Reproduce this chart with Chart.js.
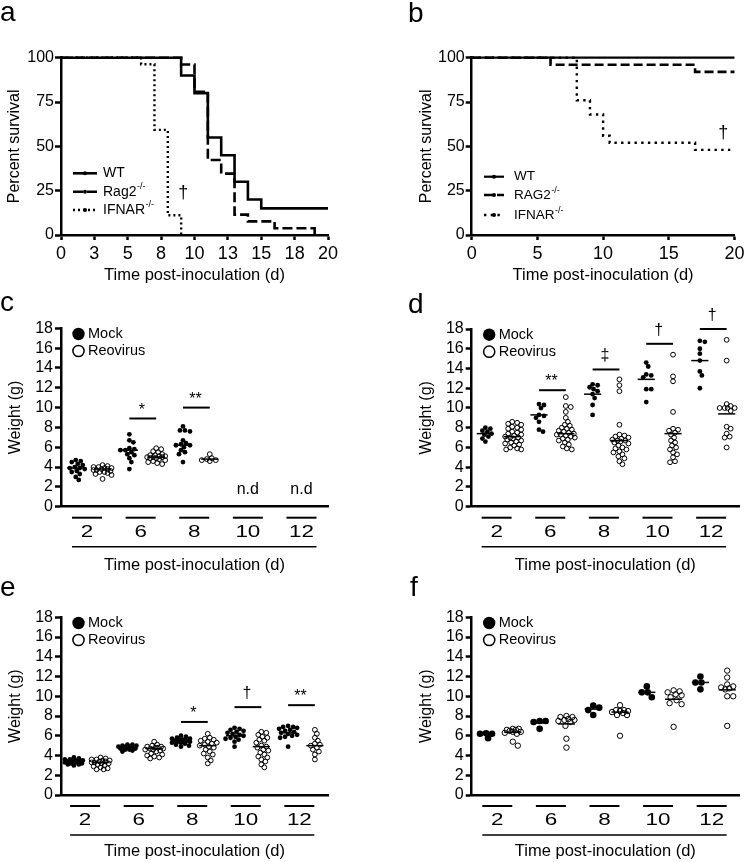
<!DOCTYPE html>
<html>
<head>
<meta charset="utf-8">
<title>Survival and weight after reovirus inoculation</title>
<script src="https://cdn.jsdelivr.net/npm/chart.js@4.4.1/dist/chart.umd.min.js"></script>
<style>
  html, body { margin:0; padding:0; background:#fff; width:748px; height:862px; overflow:hidden; }
  canvas.panel { position:absolute; }
  .letter { position:absolute; font-family:'Liberation Sans', Arial, sans-serif; font-size:28px; line-height:28px; color:#000; }
</style>
</head>
<body>
<canvas id="pa" class="panel" width="374" height="290" style="left:0px;top:0px"></canvas>
<canvas id="pb" class="panel" width="374" height="290" style="left:374px;top:0px"></canvas>
<canvas id="pc" class="panel" width="374" height="285" style="left:0px;top:290px"></canvas>
<canvas id="pd" class="panel" width="374" height="285" style="left:374px;top:290px"></canvas>
<canvas id="pe" class="panel" width="374" height="287" style="left:0px;top:575px"></canvas>
<canvas id="pf" class="panel" width="374" height="287" style="left:374px;top:575px"></canvas>
<div class="letter" style="left:0px;top:-2px">a</div>
<div class="letter" style="left:408px;top:-1px">b</div>
<div class="letter" style="left:0px;top:288px">c</div>
<div class="letter" style="left:408px;top:290px">d</div>
<div class="letter" style="left:0px;top:573px">e</div>
<div class="letter" style="left:410px;top:573px">f</div>
<script>
// ================= DATA =================
// --- Panel a: survival (%), Kaplan-Meier steps (day of event, survival after event)
const aSeriesNames = ['WT', 'Rag2', 'IFNAR'];
const aSeriesSup   = ['', '-/-', '-/-'];
const aWT_day    = [0, 9, 10, 11, 12, 13, 14, 15, 20];
const aWT_pct    = [100, 90, 80, 55, 45, 30, 20, 15, 15];
const aRag2_day  = [0, 9, 10, 11, 12, 13, 14, 16, 19];
const aRag2_pct  = [100, 96.2, 80.8, 42.3, 34.6, 11.5, 7.7, 3.8, 0];
const aIFNAR_day = [0, 6, 7, 8, 9];
const aIFNAR_pct = [100, 96.3, 59.3, 11.1, 0];
const aXTickVals   = [0, 2.5, 5, 7.5, 10, 12.5, 15, 17.5, 20];
const aXTickLabels = ['0', '3', '5', '8', '10', '13', '15', '18', '20'];
const aDagger = [9.15, 23.7];           // [day, percent]

// --- Panel b
const bSeriesNames = ['WT', 'RAG2', 'IFNAR'];
const bSeriesSup   = ['', '-/-', '-/-'];
const bWT_day    = [0, 20];
const bWT_pct    = [100, 100];
const bRAG2_day  = [0, 6, 17, 20];
const bRAG2_pct  = [100, 96, 92, 92];
const bIFNAR_day = [0, 8, 9, 10, 10.5, 17, 20];
const bIFNAR_pct = [100, 76, 68, 56, 52, 48, 48];
const bXTickVals   = [0, 5, 10, 15, 20];
const bXTickLabels = ['0', '5', '10', '15', '20'];
const bDagger = [19.15, 58];

const pctTicks = [0, 25, 50, 75, 100];

// --- Weight panels (g): categories and tick labels
const days = ['2', '6', '8', '10', '12'];
const weightTicks = [0, 2, 4, 6, 8, 10, 12, 14, 16, 18];
const groupNames = ['Mock', 'Reovirus'];

// Panel c
const cMock = [
  [4.7, 4.6, 4.5, 4.3, 4.2, 4.0, 3.9, 3.9, 3.8, 3.6, 3.5, 3.3, 3.0, 2.7],
  [7.3, 6.7, 6.5, 5.9, 5.8, 5.7, 5.7, 5.5, 5.3, 5.2, 4.9, 4.5, 3.8],
  [8.1, 7.7, 7.7, 7.6, 6.7, 6.4, 6.3, 6.2, 6.2, 6.0, 5.7, 5.5, 5.3, 4.5],
  [], []
];
const cReo = [
  [4.2, 4.1, 4.0, 4.0, 3.9, 3.9, 3.8, 3.8, 3.7, 3.7, 3.6, 3.5, 3.5, 3.4, 3.3, 3.2, 2.8],
  [5.9, 5.8, 5.6, 5.5, 5.3, 5.2, 5.2, 5.1, 5.1, 5.0, 5.0, 5.0, 4.9, 4.9, 4.8, 4.7, 4.6, 4.5, 4.4, 4.3],
  [5.3, 4.9, 4.8, 4.7, 4.7, 4.6],
  [], []
];
const cMockMed = [3.9, 5.7, 6.2, null, null];
const cReoMed  = [3.8, 5.0, 4.8, null, null];
const cSigDay  = [1, 2];
const cSigY    = [8.9, 10.0];
const cSigText = ['*', '**'];
const cNdDay   = [3, 4];
const cNdY     = [1.7, 1.7];

// Panel d
const dMock = [
  [8.0, 7.9, 7.7, 7.6, 7.4, 7.3, 7.1, 6.9, 6.6],
  [10.4, 10.3, 10.0, 9.3, 9.2, 9.0, 8.6, 7.8, 7.6],
  [12.4, 12.3, 12.1, 11.9, 11.7, 11.4, 11.0, 10.3, 9.3],
  [14.6, 14.2, 13.4, 13.3, 13.1, 11.9, 11.9, 10.6],
  [16.8, 16.7, 16.0, 15.5, 14.8, 13.7, 13.3, 12.0]
];
const dReo = [
  [8.6, 8.5, 8.4, 8.3, 8.1, 8.0, 7.9, 7.8, 7.6, 7.5, 7.4, 7.3, 7.2, 7.1, 7.0, 7.0, 6.9, 6.8, 6.7, 6.6, 6.5, 6.4, 6.3, 6.2, 6.0, 5.9, 5.8, 5.8],
  [11.1, 10.2, 10.1, 9.6, 9.0, 8.6, 8.3, 8.2, 8.0, 7.9, 7.8, 7.7, 7.6, 7.5, 7.4, 7.3, 7.3, 7.2, 7.1, 7.0, 6.9, 6.8, 6.7, 6.5, 6.3, 6.1, 5.9, 5.8],
  [12.9, 12.3, 11.7, 8.3, 7.3, 7.2, 7.1, 7.0, 6.9, 6.8, 6.7, 6.7, 6.6, 6.5, 6.4, 6.2, 6.0, 5.9, 5.8, 5.6, 5.5, 5.3, 5.1, 4.9, 4.6, 4.3],
  [15.4, 13.2, 12.7, 9.6, 7.9, 7.8, 7.7, 7.5, 7.3, 7.0, 6.7, 6.5, 6.2, 6.0, 5.8, 5.5, 5.3, 5.0, 4.6, 4.5],
  [16.9, 14.8, 10.4, 10.2, 10.0, 10.0, 10.0, 10.0, 9.7, 8.1, 7.9, 7.4, 7.1, 7.0, 6.0]
];
const dMockMed = [7.4, 9.3, 11.4, 12.9, 14.8];
const dReoMed  = [7.1, 7.4, 6.7, 7.4, 9.4];
const dSigDay  = [1, 2, 3, 4];
const dSigY    = [11.8, 13.9, 16.5, 18.0];
const dSigText = ['**', '\u2021', '\u2020', '\u2020'];

// Panel e
const eMock = [
  [3.8, 3.7, 3.6, 3.6, 3.5, 3.5, 3.4, 3.4, 3.4, 3.3, 3.3, 3.3, 3.2, 3.2, 3.1, 3.1, 3.0],
  [5.1, 5.1, 5.0, 5.0, 4.9, 4.9, 4.9, 4.8, 4.8, 4.8, 4.7, 4.7, 4.6, 4.6, 4.5, 4.4],
  [6.0, 5.9, 5.8, 5.7, 5.7, 5.6, 5.6, 5.5, 5.5, 5.4, 5.4, 5.3, 5.3, 5.2, 5.1, 5.0, 4.9],
  [6.8, 6.7, 6.6, 6.5, 6.4, 6.3, 6.2, 6.1, 6.0, 5.9, 5.8, 5.7, 5.6, 5.4, 4.9],
  [7.0, 6.9, 6.9, 6.8, 6.7, 6.6, 6.5, 6.4, 6.3, 6.2, 6.1, 6.0, 5.9, 5.8, 4.9]
];
const eReo = [
  [3.8, 3.7, 3.6, 3.6, 3.5, 3.5, 3.4, 3.4, 3.3, 3.3, 3.2, 3.2, 3.1, 3.0, 2.9, 2.8, 2.7, 2.6, 2.6],
  [5.4, 5.1, 5.0, 4.9, 4.9, 4.8, 4.8, 4.7, 4.7, 4.6, 4.6, 4.5, 4.4, 4.2, 4.1, 4.0, 3.9, 3.8, 3.7],
  [6.2, 5.8, 5.7, 5.6, 5.5, 5.4, 5.3, 5.2, 5.1, 5.0, 4.9, 4.8, 4.6, 4.4, 4.2, 4.1, 3.8, 3.5, 3.2],
  [6.4, 6.3, 6.1, 5.9, 5.8, 5.6, 5.5, 5.3, 5.0, 4.9, 4.8, 4.6, 4.5, 4.3, 4.1, 3.9, 3.8, 3.6, 3.4, 3.1, 2.8],
  [6.6, 6.2, 5.8, 5.5, 5.2, 5.1, 5.0, 4.8, 4.6, 4.4, 4.1, 3.6]
];
const eMockMed = [3.4, 4.8, 5.5, 6.0, 6.3];
const eReoMed  = [3.3, 4.7, 5.0, 4.9, 5.0];
const eSigDay  = [2, 3, 4];
const eSigY    = [7.4, 8.9, 9.1];
const eSigText = ['*', '\u2020', '**'];

// Panel f
const fMock = [
  [6.25, 6.2, 6.2, 5.75],
  [7.5, 7.5, 7.4, 6.7],
  [9.05, 8.85, 8.6, 8.1],
  [11.0, 10.4, 10.4, 9.9],
  [12.0, 11.4, 11.4, 10.7]
];
const fReo = [
  [6.7, 6.7, 6.6, 6.6, 6.5, 6.4, 6.4, 6.3, 6.2, 5.4, 5.0],
  [8.0, 7.9, 7.9, 7.7, 7.6, 7.6, 7.5, 7.4, 7.0, 5.7, 4.8],
  [9.1, 8.6, 8.6, 8.5, 8.5, 8.4, 8.3, 8.1, 8.1, 6.0],
  [10.6, 10.5, 10.4, 10.2, 10.1, 9.9, 9.6, 9.3, 9.2, 6.9],
  [12.6, 11.9, 11.2, 11.0, 10.9, 10.8, 10.7, 10.0, 10.0, 7.0]
];
const fMockMed = [6.2, 7.3, 8.7, 10.4, 11.4];
const fReoMed  = [6.35, 7.2, 8.4, 9.7, 10.65];
const fSigDay = [], fSigY = [], fSigText = [];

// ================= LAYOUT / STYLE =================
const FONT = "'Liberation Sans', Arial, Helvetica, sans-serif";
Chart.defaults.font.family = FONT;
Chart.defaults.color = '#000';
Chart.defaults.animation = false;

const GA = {W:374, H:290, l:61,   t:57.7, r:328,   b:235, yTitleX:15,   xTitleY:275};
const GB = {W:374, H:290, l:97.7, t:57.7, r:364.3, b:235, yTitleX:52.5, xTitleY:275};
const GC = {W:374, H:285, l:61,   t:38.3, r:328,   b:216.7, yTitleX:15.5, xTitleY:275,   xMin:-0.55,  xMax:9.41, rm:2.4, rr:2.4, D:4.2, maxOff:9};
const GD = {W:374, H:285, l:97.7, t:39,   r:365,   b:216.7, yTitleX:52.5, xTitleY:275,   xMin:-0.51,  xMax:9.46, rm:2.4, rr:2.4, D:4.2, maxOff:9};
const GE = {W:374, H:287, l:61,   t:42.3, r:328,   b:220,   yTitleX:15.5, xTitleY:276.7, xMin:-0.48,  xMax:9.49, rm:2.4, rr:2.4, D:4.2, maxOff:9};
const GF = {W:374, H:287, l:97.7, t:42.3, r:365,   b:220,   yTitleX:52.5, xTitleY:276.7, xMin:-0.535, xMax:9.44, rm:3.3, rr:2.7, D:6.0, maxOff:8};

const GROUP_OFFSET = 0.42;   // label centre relative to mock column

function drawLabelSup(ctx, x, y, base, sup, size) {
  ctx.font = size + 'px ' + FONT;
  ctx.textAlign = 'left'; ctx.textBaseline = 'middle'; ctx.fillStyle = '#000';
  ctx.fillText(base, x, y);
  if (sup) {
    const w = ctx.measureText(base).width;
    ctx.font = Math.round(size * 0.64) + 'px ' + FONT;
    ctx.fillText(sup, x + w + 0.5, y - size * 0.36);
  }
}

function centeredGlyph(ctx, text, cx, cy, size) {
  ctx.font = size + 'px ' + FONT;
  ctx.textAlign = 'center'; ctx.textBaseline = 'alphabetic';
  const m = ctx.measureText(text);
  const base = cy + (m.actualBoundingBoxAscent - m.actualBoundingBoxDescent) / 2;
  ctx.fillText(text, cx, base);
}

// ================= SURVIVAL CHARTS =================
function survivalChart(id, G, series, xVals, xLabels, dagger, leg) {
  const datasets = series.map(s => ({
    type: 'line',
    label: s.name + s.sup,
    data: s.day.map((d, i) => ({x: d, y: s.pct[i]})),
    stepped: 'before',
    borderColor: '#000',
    borderWidth: s.width,
    borderDash: s.dash,
    borderCapStyle: 'butt',
    borderJoinStyle: 'miter',
    pointRadius: 0,
    fill: false,
    clip: false
  }));
  const deco = {
    id: 'deco',
    afterDraw(chart) {
      const ctx = chart.ctx, a = chart.chartArea;
      const xs = chart.scales.x, ys = chart.scales.y;
      ctx.save();
      series.forEach((s, i) => {
        const y = a.bottom + leg.rows[i];
        const x0 = a.left + leg.x0, x1 = a.left + leg.x1;
        ctx.strokeStyle = '#000'; ctx.lineWidth = s.width; ctx.lineCap = 'butt';
        ctx.setLineDash(s.dash);
        ctx.beginPath(); ctx.moveTo(x0, y); ctx.lineTo(x1, y); ctx.stroke();
        ctx.setLineDash([]);
        ctx.fillStyle = '#000';
        ctx.beginPath(); ctx.arc((x0 + x1) / 2, y, 2, 0, Math.PI * 2); ctx.fill();
        drawLabelSup(ctx, a.left + leg.tx, y, s.name, s.sup, leg.size);
      });
      ctx.fillStyle = '#000';
      centeredGlyph(ctx, '\u2020', xs.getPixelForValue(dagger[0]), ys.getPixelForValue(dagger[1]), 18);
      ctx.restore();
    }
  };
  return new Chart(document.getElementById(id), {
    type: 'line',
    data: {datasets},
    plugins: [deco],
    options: {
      responsive: false,
      events: [],
      layout: {padding: {top: G.t, right: G.W - G.r, bottom: 0, left: 0}},
      plugins: {legend: {display: false}, tooltip: {enabled: false}},
      scales: {
        x: {
          type: 'linear', min: 0, max: 20,
          afterFit: s => { s.height = G.H - G.b; },
          afterBuildTicks: s => { s.ticks = xVals.map(v => ({value: v})); },
          ticks: {callback: (v, i) => xLabels[i], font: {size: 18}, padding: 3.5, color: '#000', maxRotation: 0, autoSkip: false},
          grid: {display: true, drawOnChartArea: false, drawTicks: true, tickLength: 5, tickWidth: 2.5, color: '#000'},
          border: {display: true, width: 2.5, color: '#000'},
          title: {display: true, text: 'Time post-inoculation (d)', font: {size: 16.5}, color: '#000',
                  padding: {top: 0, bottom: G.H - G.xTitleY - 9.9}}
        },
        y: {
          type: 'linear', min: 0, max: 100,
          afterFit: s => { s.width = G.l; },
          afterBuildTicks: s => { s.ticks = pctTicks.map(v => ({value: v})); },
          ticks: {font: {size: 16}, padding: 1, color: '#000', autoSkip: false},
          grid: {display: true, drawOnChartArea: false, drawTicks: true, tickLength: 6, tickWidth: 2.5, color: '#000'},
          border: {display: true, width: 2.5, color: '#000'},
          title: {display: true, text: 'Percent survival', font: {size: 16}, color: '#000',
                  padding: {top: G.yTitleX - 9.6, bottom: 0}}
        }
      }
    }
  });
}

survivalChart('pa', GA, [
  {name: aSeriesNames[0], sup: aSeriesSup[0], day: aWT_day,    pct: aWT_pct,    width: 2.6, dash: []},
  {name: aSeriesNames[1], sup: aSeriesSup[1], day: aRag2_day,  pct: aRag2_pct,  width: 2.6, dash: [10, 4]},
  {name: aSeriesNames[2], sup: aSeriesSup[2], day: aIFNAR_day, pct: aIFNAR_pct, width: 2.4, dash: [2, 3]}
], aXTickVals, aXTickLabels, aDagger, {x0: 12, x1: 36, tx: 42, rows: [-61.7, -43.3, -25], size: 14});

survivalChart('pb', GB, [
  {name: bSeriesNames[0], sup: bSeriesSup[0], day: bWT_day,    pct: bWT_pct,    width: 2.2, dash: []},
  {name: bSeriesNames[1], sup: bSeriesSup[1], day: bRAG2_day,  pct: bRAG2_pct,  width: 2.6, dash: [9, 4]},
  {name: bSeriesNames[2], sup: bSeriesSup[2], day: bIFNAR_day, pct: bIFNAR_pct, width: 2.4, dash: [2.4, 4.3]}
], bXTickVals, bXTickLabels, bDagger, {x0: 12.3, x1: 32.3, tx: 42.3, rows: [-58.3, -40, -20], size: 13.5});

// ================= WEIGHT CHARTS =================
// horizontal spreading of points sharing similar values (beeswarm), in pixel units,
// limited to +/- maxOff pixels around the column (overlap allowed beyond that)
function swarm(values, col, pxX, pxY, D, maxOff) {
  const placed = [];
  return values.map(v => {
    const py = v * pxY;
    let best = 0, bestD = -1;
    for (let s = 0; s <= 2 * maxOff; s++) {
      const cand = Math.ceil(s / 2) * (s % 2 ? 1 : -1);
      let md = Infinity;
      for (const p of placed) md = Math.min(md, Math.hypot(p[0] - cand, p[1] - py));
      if (md >= D) { best = cand; bestD = md; break; }
      if (md > bestD + 0.3) { bestD = md; best = cand; }
    }
    placed.push([best, py]);
    return {x: col + best / pxX, y: v};
  });
}

function weightChart(id, G, mock, reo, mockMed, reoMed, sigDay, sigY, sigText, ndDay, ndY) {
  const pxX = (G.r - G.l) / (G.xMax - G.xMin);
  const pxY = (G.b - G.t) / 18;
  const mockPts = [], reoPts = [];
  days.forEach((d, i) => {
    mockPts.push(...swarm(mock[i], 2 * i, pxX, pxY, G.D, G.maxOff));
    reoPts.push(...swarm(reo[i], 2 * i + 1, pxX, pxY, G.D, G.maxOff));
  });
  const deco = {
    id: 'deco',
    afterDatasetsDraw(chart) {
      const ctx = chart.ctx, xs = chart.scales.x, ys = chart.scales.y;
      ctx.save();
      ctx.strokeStyle = '#000'; ctx.lineWidth = 1.5;
      const med = (col, m) => {
        if (m == null) return;
        const y = ys.getPixelForValue(m);
        ctx.beginPath();
        ctx.moveTo(xs.getPixelForValue(col - 0.32), y);
        ctx.lineTo(xs.getPixelForValue(col + 0.32), y);
        ctx.stroke();
      };
      mockMed.forEach((m, i) => med(2 * i, m));
      reoMed.forEach((m, i) => med(2 * i + 1, m));
      ctx.restore();
    },
    afterDraw(chart) {
      const ctx = chart.ctx, a = chart.chartArea, xs = chart.scales.x, ys = chart.scales.y;
      ctx.save();
      ctx.strokeStyle = '#000'; ctx.fillStyle = '#000';
      // significance bars
      sigDay.forEach((g, k) => {
        const y = ys.getPixelForValue(sigY[k]);
        const x0 = xs.getPixelForValue(2 * g), x1 = xs.getPixelForValue(2 * g + 1);
        ctx.lineWidth = 2;
        ctx.beginPath(); ctx.moveTo(x0, y); ctx.lineTo(x1, y); ctx.stroke();
        const isStar = sigText[k].indexOf('*') >= 0;
        centeredGlyph(ctx, sigText[k], (x0 + x1) / 2 - 1, y - (isStar ? 12.8 : 14.5), 16);
      });
      // not determined
      (ndDay || []).forEach((g, k) => {
        ctx.font = '16px ' + FONT; ctx.textAlign = 'center'; ctx.textBaseline = 'middle';
        ctx.fillText('n.d', xs.getPixelForValue(2 * g + GROUP_OFFSET), ys.getPixelForValue(ndY[k]));
      });
      // legend
      const lx = a.left + 17.5;
      ctx.beginPath(); ctx.arc(lx, a.top + 5.7, 6.2, 0, Math.PI * 2); ctx.fill();
      ctx.lineWidth = 1.5;
      ctx.beginPath(); ctx.arc(lx, a.top + 22.7, 5.6, 0, Math.PI * 2); ctx.stroke();
      ctx.font = '14.5px ' + FONT; ctx.textAlign = 'left'; ctx.textBaseline = 'middle';
      ctx.fillText(groupNames[0], lx + 9.5, a.top + 5.7);
      ctx.fillText(groupNames[1], lx + 9.5, a.top + 22.7);
      // category underlines, labels and spanning line
      const centers = days.map((d, i) => xs.getPixelForValue(2 * i + GROUP_OFFSET));
      ctx.lineWidth = 2;
      centers.forEach((cx, i) => {
        ctx.beginPath(); ctx.moveTo(cx - 15, a.bottom + 11); ctx.lineTo(cx + 15, a.bottom + 11); ctx.stroke();
        ctx.save();
        ctx.translate(cx, a.bottom + 25);
        ctx.scale(1.4, 1);
        ctx.font = '16px ' + FONT; ctx.textAlign = 'center'; ctx.textBaseline = 'middle';
        ctx.fillText(days[i], 0, 0.5);
        ctx.restore();
      });
      ctx.lineWidth = 1.6;
      ctx.beginPath();
      ctx.moveTo(centers[0] - 15, a.bottom + 40);
      ctx.lineTo(centers[centers.length - 1] + 15, a.bottom + 40);
      ctx.stroke();
      ctx.restore();
    }
  };
  return new Chart(document.getElementById(id), {
    type: 'scatter',
    data: {datasets: [
      {label: groupNames[0], data: mockPts, pointRadius: G.rm, pointBackgroundColor: '#000',
       pointBorderColor: '#000', pointBorderWidth: 0, pointStyle: 'circle', showLine: false, clip: false},
      {label: groupNames[1], data: reoPts, pointRadius: G.rr, pointBackgroundColor: 'rgba(0,0,0,0)',
       pointBorderColor: '#000', pointBorderWidth: 1, pointStyle: 'circle', showLine: false, clip: false}
    ]},
    plugins: [deco],
    options: {
      responsive: false,
      events: [],
      layout: {padding: {top: G.t, right: G.W - G.r, bottom: 0, left: 0}},
      plugins: {legend: {display: false}, tooltip: {enabled: false}},
      scales: {
        x: {
          type: 'linear', min: G.xMin, max: G.xMax,
          afterFit: s => { s.height = G.H - G.b; },
          ticks: {display: false},
          grid: {display: false, drawTicks: false},
          border: {display: true, width: 2.5, color: '#000'},
          title: {display: true, text: 'Time post-inoculation (d)', font: {size: 16.5}, color: '#000',
                  padding: {top: 0, bottom: G.H - G.xTitleY - 9.9}}
        },
        y: {
          type: 'linear', min: 0, max: 18,
          afterFit: s => { s.width = G.l; },
          afterBuildTicks: s => { s.ticks = weightTicks.map(v => ({value: v})); },
          ticks: {font: {size: 16}, padding: 2, color: '#000', autoSkip: false},
          grid: {display: true, drawOnChartArea: false, drawTicks: true, tickLength: 6, tickWidth: 2.5, color: '#000'},
          border: {display: true, width: 2.5, color: '#000'},
          title: {display: true, text: 'Weight (g)', font: {size: 16}, color: '#000',
                  padding: {top: G.yTitleX - 9.6, bottom: 0}}
        }
      }
    }
  });
}

weightChart('pc', GC, cMock, cReo, cMockMed, cReoMed, cSigDay, cSigY, cSigText, cNdDay, cNdY);
weightChart('pd', GD, dMock, dReo, dMockMed, dReoMed, dSigDay, dSigY, dSigText, [], []);
weightChart('pe', GE, eMock, eReo, eMockMed, eReoMed, eSigDay, eSigY, eSigText, [], []);
weightChart('pf', GF, fMock, fReo, fMockMed, fReoMed, fSigDay, fSigY, fSigText, [], []);
</script>
</body>
</html>
